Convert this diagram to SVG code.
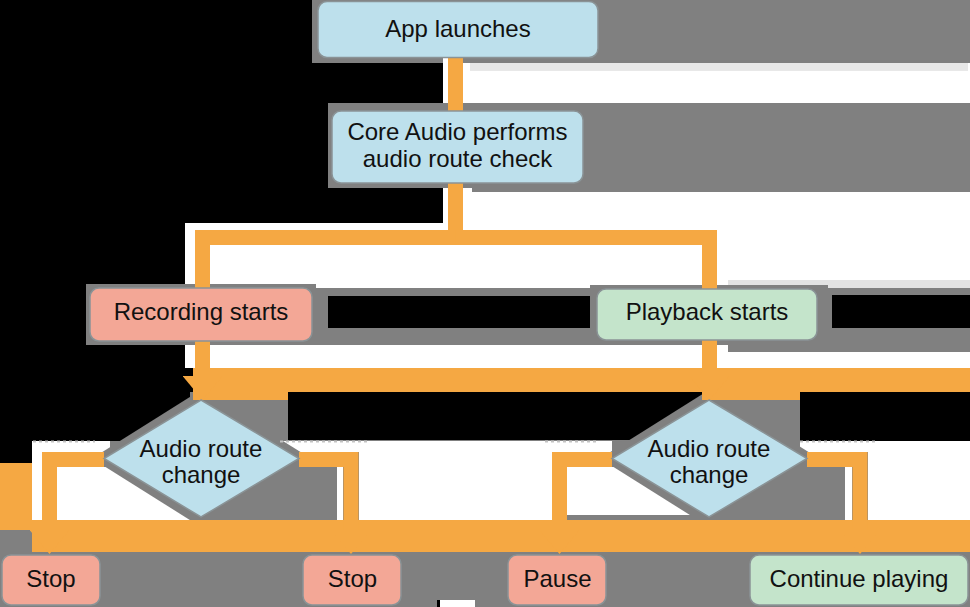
<svg xmlns="http://www.w3.org/2000/svg" width="970" height="607" viewBox="0 0 970 607">
<style>
.bk{fill:#000}
.wh{fill:#fff}
.gr{fill:#808080}
.or{fill:#f5a843}
.conn{fill:none;stroke:#f5a843;stroke-width:15;stroke-linejoin:miter;stroke-linecap:butt}
.blue{fill:#bde0ec;stroke:#8a9396;stroke-width:1.5}
.red{fill:#f3a796;stroke:#8a9396;stroke-width:1.5}
.green{fill:#c4e4cb;stroke:#8a9396;stroke-width:1.5}
.t{font-family:"Liberation Sans",Arial,Helvetica,sans-serif;font-size:24px;fill:#111;text-anchor:middle}
.dots{stroke:#c4c4c4;stroke-width:2;stroke-dasharray:3 3}
</style>
<defs>
<marker id="head" markerUnits="userSpaceOnUse" markerWidth="24" markerHeight="40" refX="0" refY="20" orient="auto">
<path d="M0,0 L24,20 L0,40 z" fill="#f5a843"/>
</marker>
</defs>
<g id="background">
<rect class="gr" x="0" y="0" width="970" height="607"/>
<rect class="wh" x="443" y="63" width="527" height="40"/>
<rect x="470" y="63" width="498" height="8" fill="#e8e8e8"/>
<rect class="wh" x="443" y="57" width="5" height="170"/>
<rect class="wh" x="443" y="183" width="29" height="9"/>
<rect class="wh" x="443" y="192" width="527" height="88"/>
<rect class="wh" x="185" y="223" width="258" height="65"/>
<rect class="wh" x="443" y="280" width="285" height="8"/>
<rect x="728" y="280" width="242" height="8" fill="#e3e3e3"/>
<rect class="wh" x="185" y="345" width="785" height="23"/>
<rect class="gr" x="728" y="345" width="242" height="7"/>
<rect class="wh" x="440" y="600" width="35" height="7"/>
<rect class="wh" x="32" y="441" width="78" height="11"/>
<rect class="wh" x="32" y="441" width="10" height="79"/>
<rect class="wh" x="57" y="467" width="133" height="53"/>
<rect class="wh" x="280" y="441" width="88" height="11"/>
<rect class="wh" x="337" y="467" width="6" height="53"/>
<rect class="wh" x="359" y="441" width="193" height="79"/>
<rect class="wh" x="545" y="441" width="67" height="11"/>
<rect class="wh" x="567" y="467" width="133" height="48"/>
<rect class="wh" x="800" y="441" width="170" height="11"/>
<rect class="wh" x="845" y="467" width="7" height="53"/>
<rect class="wh" x="868" y="452" width="102" height="68"/>
<rect class="bk" x="0" y="0" width="312" height="63"/>
<rect class="bk" x="0" y="63" width="443" height="160"/>
<rect class="bk" x="0" y="223" width="185" height="145"/>
<rect class="bk" x="0" y="368" width="193" height="24"/>
<rect class="bk" x="0" y="392" width="190" height="49"/>
<rect class="bk" x="0" y="441" width="32" height="22"/>
<rect class="bk" x="288" y="392" width="414" height="48"/>
<rect class="bk" x="800" y="392" width="170" height="49"/>
<rect class="bk" x="328" y="296" width="262" height="32"/>
<rect class="bk" x="832" y="295" width="138" height="33"/>
<rect class="bk" x="437" y="600" width="3" height="7"/>
<rect class="gr" x="328" y="103" width="259" height="85"/>
<rect class="gr" x="86" y="284" width="230" height="61"/>
<rect class="gr" x="590" y="285" width="238" height="60"/>
<polygon class="gr" points="201,390 311,458.5 201,527 92,458.5"/>
<polygon class="gr" points="709,390 819,458.5 709,527 600,458.5"/>
<rect class="or" x="193" y="368" width="777" height="24"/>
<rect class="or" x="193" y="392" width="95" height="8"/>
<rect class="or" x="702" y="392" width="98" height="8"/>
<rect class="or" x="0" y="463" width="32" height="67"/>
<rect class="or" x="32" y="520" width="938" height="32"/>
<line class="dots" x1="33" y1="441.5" x2="95" y2="441.5"/>
<line class="dots" x1="280" y1="441.5" x2="367" y2="441.5"/>
<line class="dots" x1="545" y1="441.5" x2="597" y2="441.5"/>
<line class="dots" x1="800" y1="441.5" x2="878" y2="441.5"/>
</g>
<g id="connectors">
<path class="conn" d="M455.5,57 V111"/>
<path class="conn" d="M455.5,183 V237.5 H202.5 V288"/>
<path class="conn" d="M455.5,237.5 H709.5 V289"/>
<path class="conn" d="M202.5,341 V376" marker-end="url(#head)"/>
<path class="conn" d="M709.5,340 V376" marker-end="url(#head)"/>
<path class="conn" d="M104,459.5 H49.5 V530" marker-end="url(#head)"/>
<path class="conn" d="M299,459.5 H351 V530" marker-end="url(#head)"/>
<path class="conn" d="M612,459.5 H559.5 V530" marker-end="url(#head)"/>
<path class="conn" d="M807,459.5 H860 V530" marker-end="url(#head)"/>
</g>
<g id="app-launches">
<rect class="blue" x="318" y="1.5" width="280" height="56" rx="9"/>
<text class="t" x="458" y="36.5">App launches</text>
</g>
<g id="route-check">
<rect class="blue" x="332" y="111" width="251" height="72" rx="9"/>
<text class="t" x="457.5" y="140">Core Audio performs</text>
<text class="t" x="457.5" y="167">audio route check</text>
</g>
<g id="recording-starts">
<rect class="red" x="90" y="288" width="222" height="53" rx="9"/>
<text class="t" x="201" y="320">Recording starts</text>
</g>
<g id="playback-starts">
<rect class="green" x="597" y="289" width="220" height="51" rx="9"/>
<text class="t" x="707" y="320">Playback starts</text>
</g>
<g id="route-change-recording">
<polygon class="blue" points="201,400 299,458.5 201,517 104,458.5"/>
<text class="t" x="201" y="457">Audio route</text>
<text class="t" x="201" y="483">change</text>
</g>
<g id="route-change-playback">
<polygon class="blue" points="709,400 807,458.5 709,517 612,458.5"/>
<text class="t" x="709" y="457">Audio route</text>
<text class="t" x="709" y="483">change</text>
</g>
<g id="stop-1">
<rect class="red" x="2" y="555" width="98" height="50" rx="9"/>
<text class="t" x="51" y="587">Stop</text>
</g>
<g id="stop-2">
<rect class="red" x="303" y="555" width="98" height="50" rx="9"/>
<text class="t" x="352.5" y="587">Stop</text>
</g>
<g id="pause">
<rect class="red" x="508" y="555" width="98" height="50" rx="9"/>
<text class="t" x="557.5" y="587">Pause</text>
</g>
<g id="continue-playing">
<rect class="green" x="750" y="555" width="218" height="50" rx="9"/>
<text class="t" x="859" y="587">Continue playing</text>
</g>
</svg>
